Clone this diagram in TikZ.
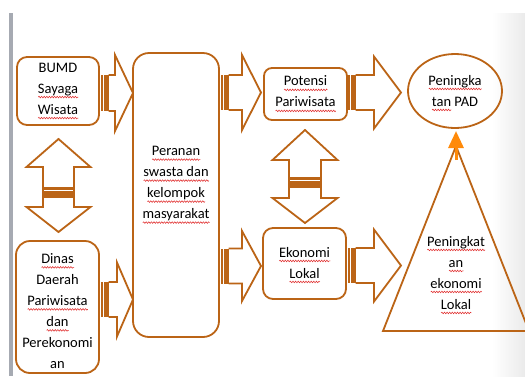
\documentclass[tikz,border=0pt]{standalone}
\usepackage{fontspec}
\setmainfont{Carlito}
\usetikzlibrary{arrows.meta,shapes.geometric,decorations.pathmorphing}
\definecolor{brn}{RGB}{187,100,22}
\definecolor{org}{RGB}{255,138,10}
\definecolor{barg}{RGB}{166,170,178}
\definecolor{sqred}{RGB}{225,50,50}
\newdimen\sqw
\newcommand\sq[1]{\setbox0\hbox{#1}\sqw=\wd0\relax\rlap{\raisebox{-5pt}{\tikz[x=1pt,y=1pt]\draw[sqred,line width=0.55pt] decorate[decoration={snake,amplitude=0.8pt,segment length=2.6pt}]{(0,0)--(\sqw,0)};}}\box0\relax}
\tikzset{
  outl/.style={draw=brn, line width=1.8pt, line join=miter},
  rbox/.style={outl, rounded corners=#1, fill=white},
  txt/.style={align=center, font=\fontsize{14.5}{21}\selectfont, inner sep=0pt},
}
% striped right arrow: x0, mid y, shaft half, head start x, head half, tip x
\newcommand\srarrow[6]{%
  \fill[brn] (#1,#2-#3) rectangle (#1+1.8,#2+#3);
  \fill[brn] (#1+2.8,#2-#3) rectangle (#1+7.5,#2+#3);
  \draw[outl] (#1+7.5,#2-#3) -- (#4,#2-#3) -- (#4,#2-#5) -- (#6,#2) -- (#4,#2+#5) -- (#4,#2+#3) -- (#1+7.5,#2+#3);
}
% striped up-down arrow: xc, shaft half, head half, top tip, top base, bottom base, bottom tip, stripe start
\newcommand\udarrow[8]{%
  \draw[outl] (#1,#4) -- (#1+#3,#5) -- (#1+#2,#5) -- (#1+#2,#6) -- (#1+#3,#6) -- (#1,#7) -- (#1-#3,#6) -- (#1-#2,#6) -- (#1-#2,#5) -- (#1-#3,#5) -- cycle;
  \fill[brn] (#1-#2,#8) rectangle (#1+#2,#8+2.5);
  \fill[brn] (#1-#2,#8+4) rectangle (#1+#2,#8+11);
}
\begin{document}
\begin{tikzpicture}[x=1pt,y=-1pt]
\useasboundingbox (0,0) rectangle (525,376);
% page decorations
\shade[left color=white, right color=black!8] (492,13) rectangle (525,376);
\fill[barg] (9,13) rectangle (13,376);

% boxes
\draw[rbox=10pt] (17,57) rectangle (99,125);
\node[txt] (bumd) at (58,91) {BUMD\\\sq{Sayaga}\\\sq{Wisata}};
\draw[rbox=14pt] (16,241) rectangle (99,373);
\node[txt] (dinas) at (57.5,311) {\sq{Dinas}\\Daerah\\\sq{Pariwisata}\\\sq{dan}\\Perekonomi\\an};
\draw[rbox=16pt] (133,53) rectangle (219,337);
\node[txt] (peranan) at (176,185) {\sq{Peranan}\\\sq{swasta dan}\\\sq{kelompok}\\\sq{masyarakat}};
\draw[rbox=8pt] (264,68) rectangle (347,120);
\node[txt] (potensi) at (305.5,94) {\sq{Potensi}\\\sq{Pariwisata}};
\draw[rbox=10pt] (263,228) rectangle (346,299);
\node[txt] (ekonomi) at (304.5,265) {\sq{Ekonomi}\\\sq{Lokal}};
\draw[outl] (455,91) ellipse [x radius=47, y radius=37];
\node[txt] (pad) at (455,93) {\sq{Peningka}\\\sq{tan} PAD};
\draw[outl] (456,146) -- (529,331) -- (383,331) -- cycle;
\coordinate (apex) at (456,160);
\coordinate (padb) at (456,131);
\node[txt] (naik) at (456,275) {\sq{Peningkat}\\\sq{an}\\\sq{ekonomi}\\\sq{Lokal}};
\draw[org, line width=3pt, -{Triangle[length=17pt,width=15pt]}] (apex) -- (padb);

% block arrows
\srarrow{101}{93}{18}{115}{38}{133}
\srarrow{101}{299.5}{17.5}{117}{37}{133}
\srarrow{221}{92.5}{17.5}{242}{37.5}{261}
\srarrow{221}{266}{17.5}{242}{35}{261}
\srarrow{348}{92.5}{17.5}{374}{36}{401}
\srarrow{348}{265.5}{17.5}{374}{36}{401}
\udarrow{58.5}{15.5}{32}{139}{167}{207}{232}{187}
\udarrow{305}{16}{32.5}{130}{160}{198}{223}{177}
\end{tikzpicture}
\end{document}
